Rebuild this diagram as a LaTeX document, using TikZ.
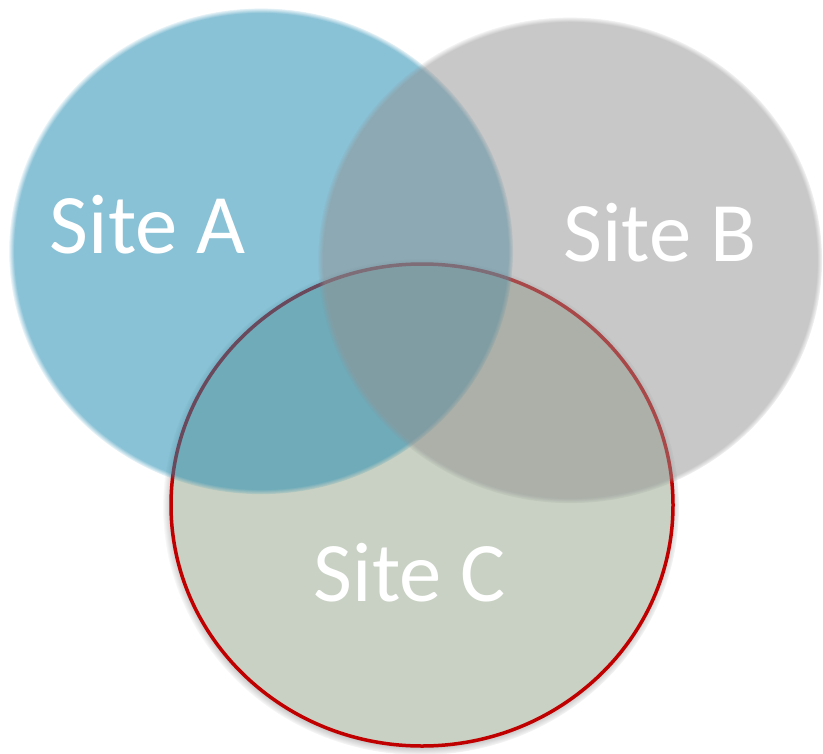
\documentclass[tikz,border=0pt]{standalone}
\usepackage{fontspec}
\setmainfont{Carlito}
\usepackage{xcolor}
\usetikzlibrary{fadings}
\definecolor{siteblue}{RGB}{32, 138, 177}
\definecolor{sitegray}{RGB}{145, 145, 145}
\definecolor{sitegreen}{RGB}{200, 209, 195}
\definecolor{sitered}{RGB}{192, 0, 0}

% soft rim for the circles and the shadow
\pgfdeclareradialshading{softrim}{\pgfpointorigin}{%
  color(0bp)=(pgftransparent!0); color(24.4bp)=(pgftransparent!0);
  color(25bp)=(pgftransparent!100); color(50bp)=(pgftransparent!100)}
\pgfdeclarefading{soft edge}{\pgfuseshading{softrim}}
\pgfdeclareradialshading{blurrim}{\pgfpointorigin}{%
  color(0bp)=(pgftransparent!0); color(23.8bp)=(pgftransparent!0);
  color(25bp)=(pgftransparent!100); color(50bp)=(pgftransparent!100)}
\pgfdeclarefading{blur edge}{\pgfuseshading{blurrim}}

\begin{document}
\begin{tikzpicture}[
    x=1bp, y=-1bp,
    venn/.style={path fading=soft edge, fill opacity=0.53},
    sitename/.style={text=white, font=\fontsize{85}{85}\selectfont, inner sep=0pt, anchor=base}
]
    \useasboundingbox (0,0) rectangle (823,754);

    % Site C underneath, with its shadow
    \fill[black, opacity=0.3, path fading=blur edge] (421,507) ellipse [x radius=258, y radius=248];
    \filldraw[fill=sitegreen, draw=sitered, line width=3.5bp] (422,505) ellipse [x radius=251, y radius=241];

    % Sites A and B on top
    \fill[venn, siteblue] (261,251) ellipse [x radius=252, y radius=243];
    \fill[venn, sitegray, fill opacity=0.5] (570,260) ellipse [x radius=252, y radius=243];

    % Labels
    \node[sitename] (siteA) at (148,253) {Site A};
    \node[sitename] (siteB) at (660,261) {Site B};
    \node[sitename] (siteC) at (410,601) {Site C};
\end{tikzpicture}
\end{document}
